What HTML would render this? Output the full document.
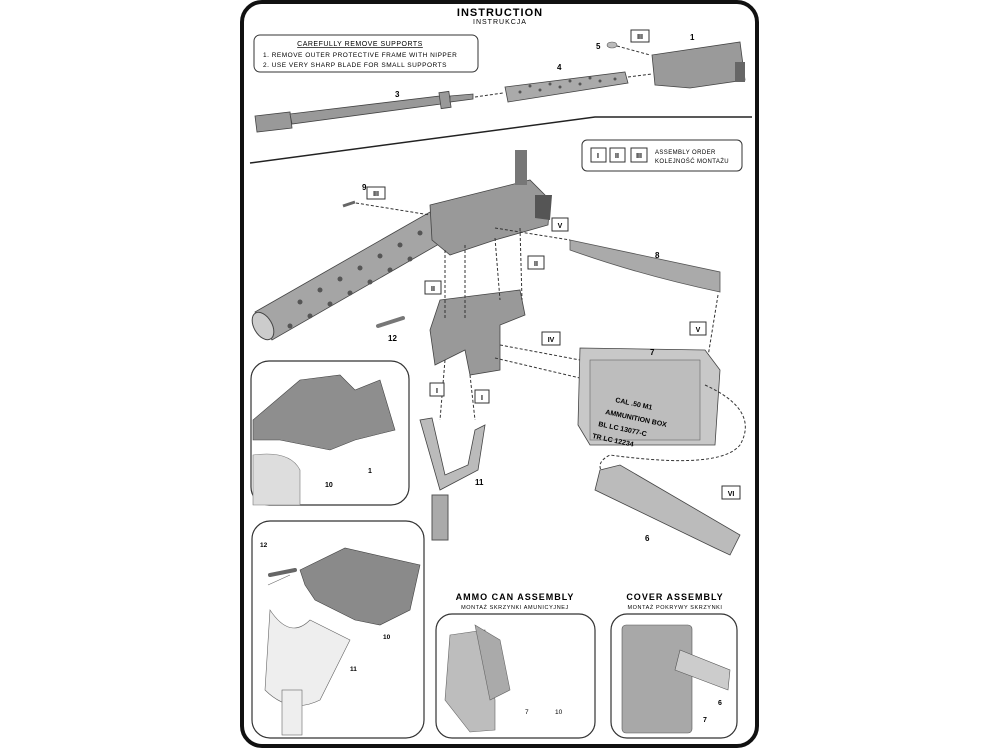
<!DOCTYPE html>
<html><head><meta charset="utf-8"><style>
html,body{margin:0;padding:0;background:#fff;}
svg{display:block;font-family:"Liberation Sans",sans-serif;}
</style></head><body>
<svg width="1000" height="750" viewBox="0 0 1000 750" xmlns="http://www.w3.org/2000/svg">
<rect x="0" y="0" width="1000" height="750" fill="#fff"/>
<rect x="242" y="2" width="515" height="744" rx="20" fill="#fff" stroke="#111" stroke-width="4"/>
<text x="500" y="16" text-anchor="middle" font-size="11" font-weight="bold" letter-spacing="1">INSTRUCTION</text>
<text x="500" y="24" text-anchor="middle" font-size="7" letter-spacing="1">INSTRUKCJA</text>
<!-- supports box -->
<rect x="254" y="35" width="224" height="37" rx="6" fill="#fff" stroke="#333" stroke-width="1"/>
<text x="360" y="46" text-anchor="middle" font-size="7" text-decoration="underline" letter-spacing="0.5">CAREFULLY REMOVE SUPPORTS</text>
<text x="263" y="57" font-size="6.5" letter-spacing="0.5">1. REMOVE OUTER PROTECTIVE FRAME WITH NIPPER</text>
<text x="263" y="67" font-size="6.5" letter-spacing="0.5">2. USE VERY SHARP BLADE FOR SMALL SUPPORTS</text>
<!-- barrel 3 -->
<g fill="#999" stroke="#444" stroke-width="0.8">
<polygon points="255,116 290,112 292,128 257,132"/>
<polygon points="290,114 440,96 441,104 292,124"/>
<rect x="440" y="92" width="10" height="16" transform="rotate(-8 445 100)"/>
<polygon points="450,96 473,94 473,99 450,102"/>
</g>
<text x="395" y="97" font-size="8" font-weight="bold">3</text>
<line x1="475" y1="97" x2="503" y2="93" stroke="#333" stroke-dasharray="3,2"/>
<!-- muffler 4 -->
<polygon points="505,87 625,72 628,83 508,102" fill="#aaa" stroke="#444" stroke-width="0.8"/>
<g fill="#555"><circle cx="520" cy="92" r="1.5"/><circle cx="540" cy="90" r="1.5"/><circle cx="560" cy="87" r="1.5"/><circle cx="580" cy="84" r="1.5"/><circle cx="600" cy="81" r="1.5"/><circle cx="615" cy="79" r="1.5"/><circle cx="530" cy="86" r="1.5"/><circle cx="550" cy="84" r="1.5"/><circle cx="570" cy="81" r="1.5"/><circle cx="590" cy="78" r="1.5"/></g>
<text x="557" y="70" font-size="8" font-weight="bold">4</text>
<line x1="628" y1="77" x2="652" y2="74" stroke="#333" stroke-dasharray="3,2"/>
<!-- receiver 1 -->
<polygon points="652,55 740,42 745,80 690,88 655,85" fill="#9a9a9a" stroke="#444" stroke-width="0.8"/>
<rect x="735" y="62" width="10" height="20" fill="#666"/>
<text x="690" y="40" font-size="8" font-weight="bold">1</text>
<rect x="631" y="30" width="18" height="12" fill="#fff" stroke="#333"/>
<text x="640" y="39" text-anchor="middle" font-size="7" font-weight="bold">III</text>
<text x="596" y="49" font-size="8" font-weight="bold">5</text>
<ellipse cx="612" cy="45" rx="5" ry="3" fill="#bbb" stroke="#555" stroke-width="0.6"/>
<line x1="617" y1="46" x2="650" y2="55" stroke="#333" stroke-dasharray="3,2"/>
<!-- divider -->
<polyline points="250,163 595,117 752,117" fill="none" stroke="#222" stroke-width="1.5"/>
<!-- assembly order box -->
<rect x="582" y="140" width="160" height="31" rx="5" fill="#fff" stroke="#333"/>
<rect x="591" y="148" width="15" height="14" fill="#fff" stroke="#333"/><text x="598" y="158" text-anchor="middle" font-size="7" font-weight="bold">I</text>
<rect x="610" y="148" width="15" height="14" fill="#fff" stroke="#333"/><text x="617" y="158" text-anchor="middle" font-size="7" font-weight="bold">II</text>
<rect x="631" y="148" width="16" height="14" fill="#fff" stroke="#333"/><text x="639" y="158" text-anchor="middle" font-size="7" font-weight="bold">III</text>
<text x="655" y="154" font-size="6" letter-spacing="0.4">ASSEMBLY ORDER</text>
<text x="655" y="163" font-size="6" letter-spacing="0.4">KOLEJNOŚĆ MONTAŻU</text>
<!-- main gun -->
<polygon points="255,312 430,212 446,240 272,340" fill="#a5a5a5" stroke="#444" stroke-width="0.8"/>
<ellipse cx="263" cy="326" rx="9" ry="15" fill="#ccc" stroke="#444" transform="rotate(-30 263 326)"/>
<g fill="#555">
<circle cx="300" cy="302" r="2.5"/><circle cx="320" cy="290" r="2.5"/><circle cx="340" cy="279" r="2.5"/><circle cx="360" cy="268" r="2.5"/><circle cx="380" cy="256" r="2.5"/><circle cx="400" cy="245" r="2.5"/><circle cx="420" cy="233" r="2.5"/>
<circle cx="310" cy="316" r="2.5"/><circle cx="330" cy="304" r="2.5"/><circle cx="350" cy="293" r="2.5"/><circle cx="370" cy="282" r="2.5"/><circle cx="390" cy="270" r="2.5"/><circle cx="410" cy="259" r="2.5"/><circle cx="290" cy="326" r="2.5"/>
</g>
<polygon points="430,205 530,180 550,200 548,225 495,240 450,255 432,240" fill="#999" stroke="#444" stroke-width="0.8"/>
<rect x="515" y="150" width="12" height="35" fill="#777"/>
<polygon points="535,195 552,195 550,220 535,218" fill="#555"/>
<text x="362" y="190" font-size="8" font-weight="bold">9</text>
<rect x="367" y="187" width="18" height="12" fill="#fff" stroke="#333"/><text x="376" y="196" text-anchor="middle" font-size="7" font-weight="bold">III</text>
<path d="M343,206 l12,-4" stroke="#666" stroke-width="3"/>
<line x1="356" y1="203" x2="430" y2="215" stroke="#333" stroke-dasharray="3,2"/>
<!-- ammo belt 8 -->
<path d="M570,240 Q640,255 720,272 L720,292 Q640,275 570,250 Z" fill="#aaa" stroke="#555" stroke-width="0.8"/>
<text x="655" y="258" font-size="8" font-weight="bold">8</text>
<rect x="552" y="218" width="16" height="13" fill="#fff" stroke="#333"/><text x="560" y="228" text-anchor="middle" font-size="7" font-weight="bold">V</text>
<line x1="495" y1="228" x2="570" y2="240" stroke="#333" stroke-dasharray="3,2"/>
<!-- part 10 -->
<polygon points="440,300 520,290 525,315 500,325 500,370 470,375 465,350 435,365 430,330" fill="#999" stroke="#444" stroke-width="0.8"/>
<text x="388" y="341" font-size="8" font-weight="bold">12</text>
<path d="M378,326 l25,-8" stroke="#777" stroke-width="4" stroke-linecap="round"/>
<rect x="425" y="281" width="16" height="13" fill="#fff" stroke="#333"/><text x="433" y="291" text-anchor="middle" font-size="7" font-weight="bold">II</text>
<rect x="528" y="256" width="16" height="13" fill="#fff" stroke="#333"/><text x="536" y="266" text-anchor="middle" font-size="7" font-weight="bold">II</text>
<rect x="542" y="332" width="18" height="13" fill="#fff" stroke="#333"/><text x="551" y="342" text-anchor="middle" font-size="7" font-weight="bold">IV</text>
<g stroke="#333" stroke-dasharray="3,2">
<line x1="445" y1="250" x2="445" y2="320"/><line x1="465" y1="245" x2="465" y2="320"/>
<line x1="495" y1="238" x2="500" y2="300"/><line x1="520" y1="228" x2="522" y2="300"/>
<line x1="445" y1="360" x2="440" y2="420"/><line x1="470" y1="375" x2="475" y2="420"/>
<line x1="500" y1="345" x2="580" y2="360"/><line x1="495" y1="358" x2="580" y2="378"/>
<line x1="718" y1="295" x2="705" y2="375"/>
</g>
<rect x="430" y="383" width="14" height="13" fill="#fff" stroke="#333"/><text x="437" y="393" text-anchor="middle" font-size="7" font-weight="bold">I</text>
<rect x="475" y="390" width="14" height="13" fill="#fff" stroke="#333"/><text x="482" y="400" text-anchor="middle" font-size="7" font-weight="bold">I</text>
<rect x="690" y="322" width="16" height="13" fill="#fff" stroke="#333"/><text x="698" y="332" text-anchor="middle" font-size="7" font-weight="bold">V</text>
<!-- tripod 11 -->
<path d="M420,420 L440,490 L478,470 L485,425 L475,430 L468,465 L445,475 L432,418 Z" fill="#bbb" stroke="#444" stroke-width="0.8"/>
<rect x="432" y="495" width="16" height="45" fill="#aaa" stroke="#555"/>
<text x="475" y="485" font-size="8" font-weight="bold">11</text>
<!-- ammo box 7 -->
<polygon points="580,348 705,350 720,370 715,445 590,445 578,425" fill="#c8c8c8" stroke="#444" stroke-width="0.8"/>
<rect x="590" y="360" width="110" height="80" fill="#bdbdbd" stroke="#666" stroke-width="0.6"/>
<text x="650" y="355" font-size="8" font-weight="bold">7</text>
<text x="615" y="402" font-size="7" font-weight="bold" transform="rotate(12 615 402)">CAL .50 M1</text>
<text x="605" y="414" font-size="7" font-weight="bold" transform="rotate(12 605 414)">AMMUNITION BOX</text>
<text x="598" y="426" font-size="7" font-weight="bold" transform="rotate(12 598 426)">BL LC 13077-C</text>
<text x="592" y="438" font-size="7" font-weight="bold" transform="rotate(12 592 438)">TR LC 12234</text>
<path d="M705,385 Q760,410 740,445 Q720,470 610,455 Q590,465 610,480" fill="none" stroke="#333" stroke-dasharray="3,2"/>
<rect x="722" y="486" width="18" height="13" fill="#fff" stroke="#333"/><text x="731" y="496" text-anchor="middle" font-size="7" font-weight="bold">VI</text>
<!-- cover 6 -->
<polygon points="600,470 620,465 740,535 730,555 715,548 595,490" fill="#bbb" stroke="#444" stroke-width="0.8"/>
<text x="645" y="541" font-size="8" font-weight="bold">6</text>
<!-- inset 1 -->
<rect x="251" y="361" width="158" height="144" rx="18" fill="#fff" stroke="#333" stroke-width="1.2"/>
<polygon points="253,420 300,380 340,375 355,390 380,380 395,430 355,440 330,450 280,440 253,440" fill="#8e8e8e" stroke="#444" stroke-width="0.6"/>
<path d="M253,455 Q290,450 300,470 L300,505 L253,505 Z" fill="#ddd" stroke="#777" stroke-width="0.6"/>
<text x="368" y="473" font-size="7" font-weight="bold">1</text>
<text x="325" y="487" font-size="7" font-weight="bold">10</text>
<!-- inset 2 -->
<rect x="252" y="521" width="172" height="217" rx="18" fill="#fff" stroke="#333" stroke-width="1.2"/>
<polygon points="300,570 345,548 420,565 410,610 380,625 355,620 335,610 315,600 305,585" fill="#8a8a8a" stroke="#444" stroke-width="0.6"/>
<path d="M268,585 L290,575 M270,610 Q290,640 310,620 L350,640 L320,700 Q290,715 265,690 Z" fill="#eee" stroke="#666" stroke-width="0.6"/>
<rect x="282" y="690" width="20" height="45" fill="#eee" stroke="#666" stroke-width="0.6"/>
<path d="M270,575 l25,-5" stroke="#666" stroke-width="4" stroke-linecap="round"/>
<text x="260" y="547" font-size="6.5" font-weight="bold">12</text>
<text x="383" y="639" font-size="6.5" font-weight="bold">10</text>
<text x="350" y="671" font-size="6.5" font-weight="bold">11</text>
<!-- inset 3 -->
<text x="515" y="600" text-anchor="middle" font-size="9" font-weight="bold" letter-spacing="1">AMMO CAN ASSEMBLY</text>
<text x="515" y="609" text-anchor="middle" font-size="5.5" letter-spacing="0.6">MONTAŻ SKRZYNKI AMUNICYJNEJ</text>
<rect x="436" y="614" width="159" height="124" rx="16" fill="#fff" stroke="#333" stroke-width="1.2"/>
<polygon points="450,635 485,630 495,700 495,730 470,732 445,700" fill="#bdbdbd" stroke="#666" stroke-width="0.6"/>
<path d="M475,625 L500,640 L510,690 L490,700 Z" fill="#aaa" stroke="#666" stroke-width="0.6"/>
<text x="525" y="714" font-size="6.5">7</text><text x="555" y="714" font-size="6.5">10</text>
<!-- inset 4 -->
<text x="675" y="600" text-anchor="middle" font-size="9" font-weight="bold" letter-spacing="1">COVER ASSEMBLY</text>
<text x="675" y="609" text-anchor="middle" font-size="5.5" letter-spacing="0.6">MONTAŻ POKRYWY SKRZYNKI</text>
<rect x="611" y="614" width="126" height="124" rx="16" fill="#fff" stroke="#333" stroke-width="1.2"/>
<rect x="622" y="625" width="70" height="108" rx="4" fill="#a8a8a8" stroke="#555" stroke-width="0.6"/>
<polygon points="680,650 730,670 728,690 675,670" fill="#ccc" stroke="#555" stroke-width="0.6"/>
<text x="718" y="705" font-size="7" font-weight="bold">6</text>
<text x="703" y="722" font-size="7" font-weight="bold">7</text>
</svg>
</body></html>
